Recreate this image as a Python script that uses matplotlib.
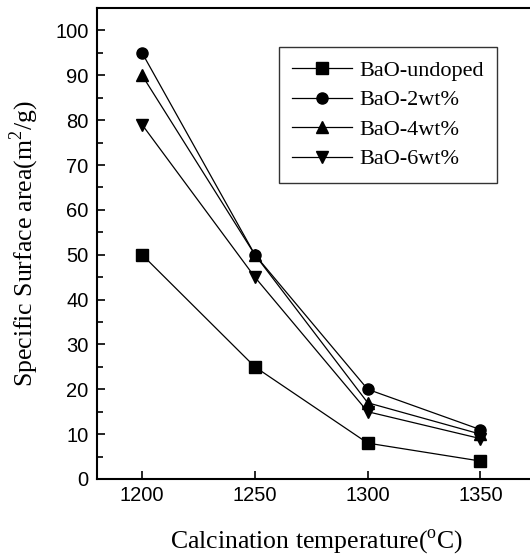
import matplotlib
matplotlib.use("Agg")
import matplotlib.pyplot as plt
from matplotlib.ticker import MultipleLocator

plt.rcParams['mathtext.fontset'] = 'custom'
plt.rcParams['mathtext.rm'] = 'Liberation Serif'

temps = [1200, 1250, 1300, 1350]
undoped = [50, 25, 8, 4]
wt2 = [95, 50, 20, 11]
wt4 = [90, 50, 17, 10]
wt6 = [79, 45, 15, 9]
labels = ["BaO-undoped", "BaO-2wt%", "BaO-4wt%", "BaO-6wt%"]
markers = ["s", "o", "^", "v"]

fig = plt.figure(figsize=(5.3, 5.56), dpi=100)
ax = fig.add_axes([0.183, 0.1385, 0.830, 0.847])

for ys, lab, m in zip([undoped, wt2, wt4, wt6], labels, markers):
    ax.plot(temps, ys, color="black", lw=0.9, marker=m, markersize=8,
            markerfacecolor="black", markeredgecolor="black", label=lab)

ax.set_xlim(1180, 1375)
ax.set_ylim(0, 105)
ax.set_xticks(temps)
ax.yaxis.set_major_locator(MultipleLocator(10))
ax.yaxis.set_minor_locator(MultipleLocator(5))
ax.tick_params(axis="both", which="major", direction="in", length=6, width=1.2,
               labelsize=14.5, pad=6)
ax.tick_params(axis="y", which="minor", direction="in", length=4, width=1.2)
ax.tick_params(axis="x", which="major", pad=5)
for lab in ax.get_xticklabels() + ax.get_yticklabels():
    lab.set_family("Liberation Sans")
for s in ax.spines.values():
    s.set_linewidth(1.5)

ax.set_xlabel("Calcination temperature($^{\\mathrm{o}}$C)", family="Liberation Serif",
              fontsize=18.5, labelpad=16)
ax.set_ylabel("Specific Surface area(m$^{\\mathrm{2}}$/g)", family="Liberation Serif",
              fontsize=18.5, labelpad=10)

leg = ax.legend(loc="upper left", bbox_to_anchor=(0.414, 0.917), borderaxespad=0,
                frameon=True, fancybox=False, edgecolor="black",
                prop={"family": "Liberation Serif", "size": 16},
                handlelength=2.7, borderpad=0.6, labelspacing=0.4, handletextpad=0.3)
leg.get_frame().set_linewidth(1.0)

fig.savefig("out.png", dpi=100)
